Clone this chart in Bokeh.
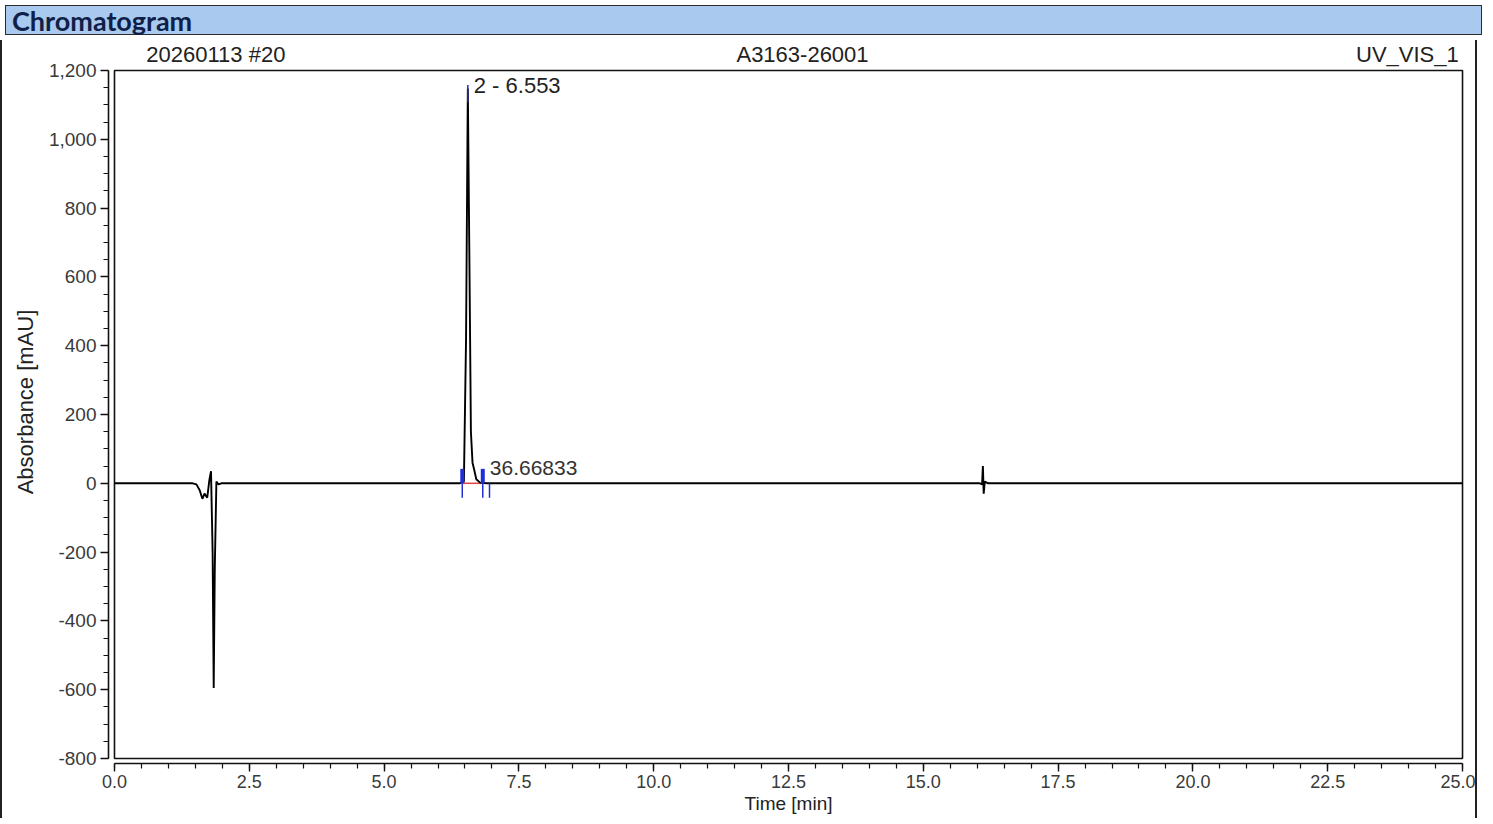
from bokeh.plotting import figure
from bokeh.models import (Range1d, NumeralTickFormatter, Label, Div,
                          SingleIntervalTicker)
from bokeh.layouts import column
from bokeh.embed import file_html
from bokeh.resources import INLINE

# ---------------- data ----------------
time_min = [0.0, 1.45, 1.52, 1.58, 1.63, 1.67, 1.72, 1.76, 1.79, 1.82, 1.84,
            1.86, 1.89, 1.93, 1.98, 6.40, 6.48, 6.52, 6.553, 6.585, 6.61,
            6.64, 6.67, 6.71, 6.78, 6.90, 16.05, 16.09, 16.105, 16.12, 16.14,
            16.20, 25.0]
absorbance = [0, 0, -3, -20, -45, -30, -42, 10, 35, -200, -595,
              -250, 5, -3, 0, 0, 5, 420, 1148, 600, 150,
              60, 40, 12, 2, 0, 0, -3, 50, -30, 5,
              0, 0]

x_limits = [0.0, 25.0]
y_limits = [-800, 1200]

title_text = "Chromatogram"
header_left = "20260113 #20"
header_mid = "A3163-26001"
header_right = "UV_VIS_1"
header_x = [0.59, 12.76, 24.93]
x_label = "Time [min]"
y_label = "Absorbance [mAU]"

main_peak_rt = 6.553
main_peak_height = 1148
main_peak_label = "2 - 6.553"
minor_peak_label = "36.66833"
minor_label_pos = [6.96, 44]

delim_upper_times = [6.45, 6.83]
delim_upper_height = 42
delim_lower_times = [6.45, 6.83, 6.955]
delim_lower_depth = -42
baseline_span = [6.45, 6.83]

# ---------------- layout ----------------
font = "Liberation Sans"
x_pad = 0.111
y_pad_bottom = 14.5
y_pad_top = 87.2   # leaves room for the header line inside the frame

bar = Div(text=title_text, width=1477, height=30,
          styles={"background-color": "#a9c9ee",
                  "border": "1px solid #2b2b2b",
                  "box-sizing": "border-box",
                  "font-family": "Lato, 'Open Sans', sans-serif",
                  "font-weight": "bold", "font-size": "27px",
                  "color": "#0f1f48", "padding-left": "6px",
                  "line-height": "30px"})

p = figure(width=1477, height=778, output_backend="svg", toolbar_location=None,
           x_range=Range1d(x_limits[0] - x_pad, x_limits[1] + x_pad),
           y_range=Range1d(y_limits[0] - y_pad_bottom, y_limits[1] + y_pad_top),
           min_border_left=106, min_border_right=11,
           min_border_top=0, min_border_bottom=55,
           styles={"border-left": "2px solid #222",
                   "border-right": "2px solid #222"})
p.outline_line_color = None
p.grid.visible = False
p.background_fill_color = "white"
p.border_fill_color = "white"

# frame box at the data limits
p.quad(left=[x_limits[0]], right=[x_limits[1]], bottom=[y_limits[0]],
       top=[y_limits[1]], fill_color=None, line_color="#111111", line_width=1.6)

# baseline segment between peak delimiters (red)
p.segment(x0=[baseline_span[0]], x1=[baseline_span[1]], y0=[0], y1=[0],
          line_color="#e04040", line_width=1.5)

# trace
p.line(time_min, absorbance, line_color="black", line_width=1.9)

# delimiters
p.segment(x0=delim_upper_times, x1=delim_upper_times,
          y0=[0] * len(delim_upper_times),
          y1=[delim_upper_height] * len(delim_upper_times),
          line_color="#1f2fd8", line_width=4)
p.segment(x0=delim_lower_times, x1=delim_lower_times,
          y0=[0] * len(delim_lower_times),
          y1=[delim_lower_depth] * len(delim_lower_times),
          line_color="#1f2fd8", line_width=1.5)
# apex marker
p.segment(x0=[main_peak_rt], x1=[main_peak_rt], y0=[main_peak_height - 40],
          y1=[main_peak_height + 10], line_color="#2a2aa0", line_width=1.5)

# axes
for ax in p.xaxis + p.yaxis:
    ax.axis_line_color = "#111111"
    ax.axis_line_width = 1.6
    ax.major_tick_line_color = "#111111"
    ax.minor_tick_line_color = "#111111"
    ax.major_tick_line_width = 1.4
    ax.minor_tick_line_width = 1.2
    ax.major_tick_in = 0
    ax.major_tick_out = 8
    ax.minor_tick_in = 0
    ax.minor_tick_out = 5
    ax.major_label_text_font = font
    ax.major_label_text_color = "#3a3a3a"
    ax.axis_label_text_font = font
    ax.axis_label_text_font_style = "normal"
    ax.axis_label_text_color = "#222222"

p.xaxis.bounds = (x_limits[0], x_limits[1])
p.yaxis.bounds = (y_limits[0], y_limits[1])
p.xaxis.ticker = SingleIntervalTicker(interval=2.5, num_minor_ticks=5)
p.yaxis.ticker = SingleIntervalTicker(interval=200, num_minor_ticks=4)
p.xaxis.formatter = NumeralTickFormatter(format="0.0")
p.yaxis.formatter = NumeralTickFormatter(format="0,0")
p.xaxis.axis_label = x_label
p.yaxis.axis_label = y_label
p.xaxis.major_label_text_font_size = "18px"
p.yaxis.major_label_text_font_size = "19px"
p.xaxis.major_label_standoff = 3
p.xaxis.axis_label_standoff = 2
p.xaxis.axis_label_text_font_size = "19px"
p.yaxis.major_label_standoff = 4
p.yaxis.axis_label_standoff = 8
p.yaxis.axis_label_text_font_size = "22px"

# header texts (just above the data box, inside the frame)
hy = y_limits[1] + 47
for hx, htxt, halign in zip(header_x, [header_left, header_mid, header_right],
                            ["left", "center", "right"]):
    p.add_layout(Label(x=hx, y=hy, text=htxt, text_font=font,
                       text_font_size="22px", text_color="#222222",
                       text_baseline="middle", text_align=halign))

# peak labels
p.add_layout(Label(x=main_peak_rt + 0.11, y=main_peak_height + 9,
                   text=main_peak_label, text_font=font, text_font_size="22px",
                   text_color="#222222", text_baseline="middle",
                   text_align="left"))
p.add_layout(Label(x=minor_label_pos[0], y=minor_label_pos[1],
                   text=minor_peak_label, text_font=font, text_font_size="21px",
                   text_color="#333333", text_baseline="middle",
                   text_align="left"))

layout = column(bar, p, spacing=0)
open("out.html", "w").write(file_html(layout, INLINE))
